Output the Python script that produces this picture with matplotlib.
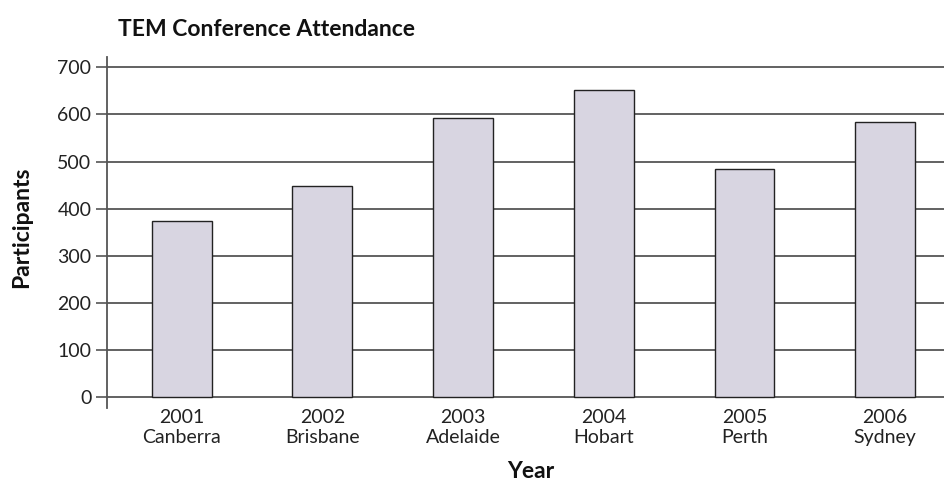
import matplotlib
matplotlib.use("Agg")
import matplotlib.pyplot as plt

years = ["2001", "2002", "2003", "2004", "2005", "2006"]
cities = ["Canberra", "Brisbane", "Adelaide", "Hobart", "Perth", "Sydney"]
participants = [373, 449, 593, 651, 485, 583]
yticks = [0, 100, 200, 300, 400, 500, 600, 700]

plt.rcParams['font.family'] = ['Lato', 'DejaVu Sans']

fig = plt.figure(figsize=(9.44, 4.82), dpi=100)
ax = fig.add_axes([106.7/944, 1 - 408/482, (944 - 106.7)/944, (408 - 57)/482])

x = list(range(len(years)))
ax.bar(x, participants, width=0.426, color="#d8d5e1", edgecolor="#222222",
       linewidth=1.0, zorder=3)

ax.set_xlim(-0.533, 5.418)
ax.set_ylim(-23, 722)
ax.set_yticks(yticks)
ax.set_yticklabels([str(v) for v in yticks], fontsize=14, color="#222222")
for v in yticks:
    ax.axhline(v, color="#555555", linewidth=1.3, zorder=1)

ax.set_xticks(x)
ax.set_xticklabels([f"{y}\n{c}" for y, c in zip(years, cities)], fontsize=14,
                   linespacing=1.2, color="#222222")
ax.tick_params(axis='x', length=0, pad=1)
ax.tick_params(axis='y', length=8, width=1.2, color="#555555", pad=3)

for s in ["top", "right", "bottom"]:
    ax.spines[s].set_visible(False)
ax.spines["left"].set_color("#555555")
ax.spines["left"].set_linewidth(1.3)

fig.text(118/944, 1 - 30/482, "TEM Conference Attendance", fontsize=16.5,
         fontweight="bold", ha="left", va="center", color="#111111")
fig.text(22/944, 1 - 227/482, "Participants", fontsize=16.5, fontweight="bold",
         rotation=90, ha="center", va="center", color="#111111")
fig.text(531/944, 1 - 471/482, "Year", fontsize=16.5, fontweight="bold",
         ha="center", va="center", color="#111111")

fig.savefig("out.png", dpi=100)
